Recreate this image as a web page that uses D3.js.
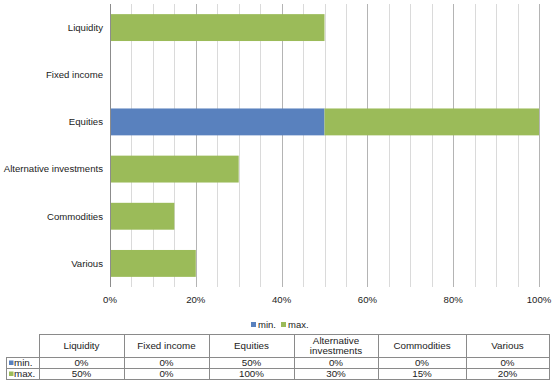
<!DOCTYPE html>
<html><head><meta charset="utf-8">
<script src="https://cdn.jsdelivr.net/npm/d3@7"></script>
<style>body{margin:0;background:#fff;}svg{display:block;font-family:"Liberation Sans",Arial,sans-serif;}</style>
</head><body><svg id="c" width="555" height="390"></svg>
<script>
const categories = ["Liquidity","Fixed income","Equities","Alternative investments","Commodities","Various"];
const headerLabels = [["Liquidity"],["Fixed income"],["Equities"],["Alternative","investments"],["Commodities"],["Various"]];
const minValues = [0, 0, 50, 0, 0, 0];
const maxValues = [50, 0, 100, 30, 15, 20];
const seriesNames = ["min.", "max."];
const tickValues = [0, 20, 40, 60, 80, 100];
const colors = ["#5981BE", "#9BBB59"];

const svg = d3.select("#c");
const x = d3.scaleLinear().domain([0,100]).range([110,539]);
const y = d3.scaleBand().domain(categories).range([4,287]).paddingInner(0.43).paddingOuter(0.215);

// gridlines
const g = svg.append("g");
g.selectAll("line.minor").data(d3.range(5,101,5).filter(v=>v%20!==0)).join("line")
  .attr("x1",d=>Math.round(x(d))+0.5).attr("x2",d=>Math.round(x(d))+0.5)
  .attr("y1",4).attr("y2",287).attr("stroke","#dadada").attr("stroke-width",1);
g.selectAll("line.major").data(tickValues.slice(1)).join("line")
  .attr("x1",d=>Math.round(x(d))+0.5).attr("x2",d=>Math.round(x(d))+0.5)
  .attr("y1",4).attr("y2",287).attr("stroke","#b4b4b4").attr("stroke-width",1);

// stacked bars
const stackData = categories.map((c,i)=>({cat:c, min:minValues[i], max:maxValues[i]}));
svg.append("g").selectAll("rect.min").data(stackData).join("rect")
  .attr("x",x(0)).attr("y",d=>y(d.cat)).attr("width",d=>x(d.min)-x(0)).attr("height",y.bandwidth())
  .attr("fill",colors[0]);
svg.append("g").selectAll("rect.max").data(stackData).join("rect")
  .attr("x",d=>x(d.min)).attr("y",d=>y(d.cat)).attr("width",d=>Math.max(0,x(d.max)-x(d.min))).attr("height",y.bandwidth())
  .attr("fill",colors[1]);

// 0 axis line
svg.append("line").attr("x1",110.5).attr("x2",110.5).attr("y1",4).attr("y2",287).attr("stroke","#8c8c8c");

// y labels
svg.append("g").selectAll("text").data(categories).join("text")
  .attr("x",103).attr("y",d=>y(d)+y.bandwidth()/2).attr("dy","0.35em")
  .attr("text-anchor","end").attr("font-size",9.6).attr("fill","#222").text(d=>d);

// x tick labels
svg.append("g").selectAll("text").data(tickValues).join("text")
  .attr("x",d=>x(d)).attr("y",303).attr("text-anchor","middle").attr("font-size",9.6).attr("fill","#222")
  .text(d=>d+"%");

// legend
const leg = svg.append("g");
[[251,"min."],[281,"max."]].forEach(([lx,t],i)=>{
  leg.append("rect").attr("x",lx).attr("y",322).attr("width",5).attr("height",5).attr("fill",colors[i]);
  leg.append("text").attr("x",lx+7).attr("y",327.5).attr("font-size",9.5).attr("fill","#222").text(t);
});

// table
const colX = [39,124,209,294,378,466,549];
const rowY = [334,357,368,379];
const tb = svg.append("g");
const stroke="#8a8a8a";
tb.append("line").attr("x1",39).attr("x2",549).attr("y1",rowY[0]+0.5).attr("y2",rowY[0]+0.5).attr("stroke",stroke);
[1,2,3].forEach(r=>tb.append("line").attr("x1",6).attr("x2",549).attr("y1",rowY[r]+0.5).attr("y2",rowY[r]+0.5).attr("stroke",stroke));
colX.forEach(cx=>tb.append("line").attr("x1",cx+0.5).attr("x2",cx+0.5).attr("y1",rowY[0]).attr("y2",rowY[3]+1).attr("stroke",stroke));
tb.append("line").attr("x1",6.5).attr("x2",6.5).attr("y1",rowY[1]).attr("y2",rowY[3]+1).attr("stroke",stroke);

headerLabels.forEach((lines,i)=>{
  const cx=(colX[i]+colX[i+1])/2;
  const t=tb.append("text").attr("text-anchor","middle").attr("font-size",9.8).attr("fill","#222");
  if(lines.length===1){ t.append("tspan").attr("x",cx).attr("y",349).text(lines[0]); }
  else { t.append("tspan").attr("x",cx).attr("y",344).text(lines[0]); t.append("tspan").attr("x",cx).attr("y",354).text(lines[1]); }
});
[minValues,maxValues].forEach((vals,r)=>{
  const cy=(rowY[r+1]+rowY[r+2])/2 + 0.5;
  tb.append("rect").attr("x",9).attr("y",cy-2.5).attr("width",4.5).attr("height",4.5).attr("fill",colors[r]);
  tb.append("text").attr("x",14).attr("y",cy).attr("dy","0.35em").attr("font-size",9.8).attr("fill","#222").text(seriesNames[r]);
  vals.forEach((v,i)=>{
    tb.append("text").attr("x",(colX[i]+colX[i+1])/2).attr("y",cy).attr("dy","0.35em")
      .attr("text-anchor","middle").attr("font-size",9.8).attr("fill","#222").text(v+"%");
  });
});
</script></body></html>
